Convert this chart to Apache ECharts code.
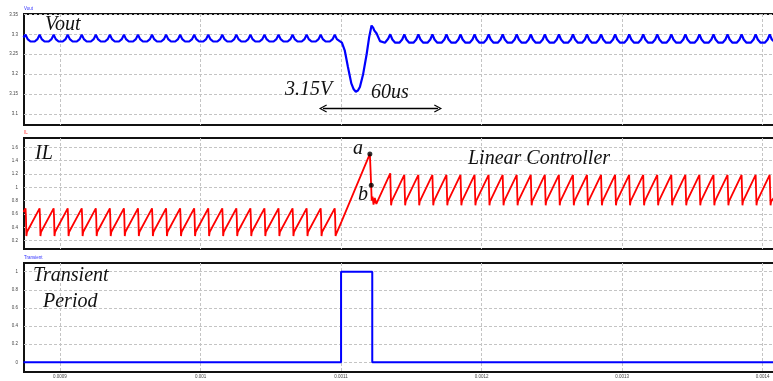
<!DOCTYPE html>
<html><head><meta charset="utf-8">
<script src="https://cdn.jsdelivr.net/npm/echarts@6/dist/echarts.min.js"></script>
<style>html,body{margin:0;padding:0;background:#fff}#c{width:773px;height:381px}</style>
</head><body><div id="c"></div>
<script>
// ---- axis ticks ----
const xTickValues = [900,1000,1100,1200,1300,1400]; // microseconds
const xTickLabels = ['0.0009','0.001','0.0011','0.0012','0.0013','0.0014'];
const voutTicks = [3.1,3.15,3.2,3.25,3.3,3.35];
const ilTicks = [0.2,0.4,0.6,0.8,1,1.2,1.4,1.6];
const trTicks = [0,0.2,0.4,0.6,0.8,1];

// ---- Vout [time us, V] ----
const voutPre = [
[874,3.292],
[875.5,3.299],[877,3.288],[879,3.282],[882,3.282],[884,3.288],
[885.5,3.299],[887,3.288],[889,3.282],[892,3.282],[894,3.288],
[895.5,3.299],[897,3.288],[899,3.282],[902,3.282],[904,3.288],
[905.5,3.299],[907,3.288],[909,3.282],[912,3.282],[914,3.288],
[915.5,3.299],[917,3.288],[919,3.282],[922,3.282],[924,3.288],
[925.5,3.299],[927,3.288],[929,3.282],[932,3.282],[934,3.288],
[935.5,3.299],[937,3.288],[939,3.282],[942,3.282],[944,3.288],
[945.5,3.299],[947,3.288],[949,3.282],[952,3.282],[954,3.288],
[955.5,3.299],[957,3.288],[959,3.282],[962,3.282],[964,3.288],
[965.5,3.299],[967,3.288],[969,3.282],[972,3.282],[974,3.288],
[975.5,3.299],[977,3.288],[979,3.282],[982,3.282],[984,3.288],
[985.5,3.299],[987,3.288],[989,3.282],[992,3.282],[994,3.288],
[995.5,3.299],[997,3.288],[999,3.282],[1002,3.282],[1004,3.288],
[1005.5,3.299],[1007,3.288],[1009,3.282],[1012,3.282],[1014,3.288],
[1015.5,3.299],[1017,3.288],[1019,3.282],[1022,3.282],[1024,3.288],
[1025.5,3.299],[1027,3.288],[1029,3.282],[1032,3.282],[1034,3.288],
[1035.5,3.299],[1037,3.288],[1039,3.282],[1042,3.282],[1044,3.288],
[1045.5,3.299],[1047,3.288],[1049,3.282],[1052,3.282],[1054,3.288],
[1055.5,3.299],[1057,3.288],[1059,3.282],[1062,3.282],[1064,3.288],
[1065.5,3.299],[1067,3.288],[1069,3.282],[1072,3.282],[1074,3.288],
[1075.5,3.299],[1077,3.288],[1079,3.282],[1082,3.282],[1084,3.288],
[1085.5,3.299],[1087,3.288],[1089,3.282],[1092,3.282],[1094,3.288]
];
const voutDip = [
[1095.5,3.299],[1097,3.288],[1099,3.283],[1100.6,3.279],[1102.6,3.26],[1104.9,3.218],
[1107.3,3.177],[1109,3.162],[1110.5,3.156],[1112,3.159],[1113.4,3.168],[1115.7,3.2],
[1118.2,3.25],[1120,3.293],[1121.7,3.322],[1122.4,3.327],[1122.9,3.316],[1123.6,3.31],
[1125.3,3.302],[1127.7,3.283],[1131.2,3.279],[1133.5,3.289]
];
const voutPost = [
[1135,3.300],[1136.5,3.287],[1138.5,3.279],[1141.5,3.279],[1143.5,3.287],
[1145,3.300],[1146.5,3.287],[1148.5,3.279],[1151.5,3.279],[1153.5,3.287],
[1155,3.300],[1156.5,3.287],[1158.5,3.279],[1161.5,3.279],[1163.5,3.287],
[1165,3.300],[1166.5,3.287],[1168.5,3.279],[1171.5,3.279],[1173.5,3.287],
[1175,3.300],[1176.5,3.287],[1178.5,3.279],[1181.5,3.279],[1183.5,3.287],
[1185,3.300],[1186.5,3.287],[1188.5,3.279],[1191.5,3.279],[1193.5,3.287],
[1195,3.300],[1196.5,3.287],[1198.5,3.279],[1201.5,3.279],[1203.5,3.287],
[1205,3.300],[1206.5,3.287],[1208.5,3.279],[1211.5,3.279],[1213.5,3.287],
[1215,3.300],[1216.5,3.287],[1218.5,3.279],[1221.5,3.279],[1223.5,3.287],
[1225,3.300],[1226.5,3.287],[1228.5,3.279],[1231.5,3.279],[1233.5,3.287],
[1235,3.300],[1236.5,3.287],[1238.5,3.279],[1241.5,3.279],[1243.5,3.287],
[1245,3.300],[1246.5,3.287],[1248.5,3.279],[1251.5,3.279],[1253.5,3.287],
[1255,3.300],[1256.5,3.287],[1258.5,3.279],[1261.5,3.279],[1263.5,3.287],
[1265,3.300],[1266.5,3.287],[1268.5,3.279],[1271.5,3.279],[1273.5,3.287],
[1275,3.300],[1276.5,3.287],[1278.5,3.279],[1281.5,3.279],[1283.5,3.287],
[1285,3.300],[1286.5,3.287],[1288.5,3.279],[1291.5,3.279],[1293.5,3.287],
[1295,3.300],[1296.5,3.287],[1298.5,3.279],[1301.5,3.279],[1303.5,3.287],
[1305,3.300],[1306.5,3.287],[1308.5,3.279],[1311.5,3.279],[1313.5,3.287],
[1315,3.300],[1316.5,3.287],[1318.5,3.279],[1321.5,3.279],[1323.5,3.287],
[1325,3.300],[1326.5,3.287],[1328.5,3.279],[1331.5,3.279],[1333.5,3.287],
[1335,3.300],[1336.5,3.287],[1338.5,3.279],[1341.5,3.279],[1343.5,3.287],
[1345,3.300],[1346.5,3.287],[1348.5,3.279],[1351.5,3.279],[1353.5,3.287],
[1355,3.300],[1356.5,3.287],[1358.5,3.279],[1361.5,3.279],[1363.5,3.287],
[1365,3.300],[1366.5,3.287],[1368.5,3.279],[1371.5,3.279],[1373.5,3.287],
[1375,3.300],[1376.5,3.287],[1378.5,3.279],[1381.5,3.279],[1383.5,3.287],
[1385,3.300],[1386.5,3.287],[1388.5,3.279],[1391.5,3.279],[1393.5,3.287],
[1395,3.300],[1396.5,3.287],[1398.5,3.279],[1401.5,3.279],[1403.5,3.287],
[1405,3.300],[1406.5,3.287],[1409,3.279],[1411,3.279]
];

// ---- IL [time us, A] ----
const ilPre = [
[874,0.63],
[875.5,0.685],[875.8,0.54],[876.1,0.27],[876.5,0.33],
[885.5,0.685],[885.8,0.54],[886.1,0.27],[886.5,0.33],
[895.5,0.685],[895.8,0.54],[896.1,0.27],[896.5,0.33],
[905.5,0.685],[905.8,0.54],[906.1,0.27],[906.5,0.33],
[915.5,0.685],[915.8,0.54],[916.1,0.27],[916.5,0.33],
[925.5,0.685],[925.8,0.54],[926.1,0.27],[926.5,0.33],
[935.5,0.685],[935.8,0.54],[936.1,0.27],[936.5,0.33],
[945.5,0.685],[945.8,0.54],[946.1,0.27],[946.5,0.33],
[955.5,0.685],[955.8,0.54],[956.1,0.27],[956.5,0.33],
[965.5,0.685],[965.8,0.54],[966.1,0.27],[966.5,0.33],
[975.5,0.685],[975.8,0.54],[976.1,0.27],[976.5,0.33],
[985.5,0.685],[985.8,0.54],[986.1,0.27],[986.5,0.33],
[995.5,0.685],[995.8,0.54],[996.1,0.27],[996.5,0.33],
[1005.5,0.685],[1005.8,0.54],[1006.1,0.27],[1006.5,0.33],
[1015.5,0.685],[1015.8,0.54],[1016.1,0.27],[1016.5,0.33],
[1025.5,0.685],[1025.8,0.54],[1026.1,0.27],[1026.5,0.33],
[1035.5,0.685],[1035.8,0.54],[1036.1,0.27],[1036.5,0.33],
[1045.5,0.685],[1045.8,0.54],[1046.1,0.27],[1046.5,0.33],
[1055.5,0.685],[1055.8,0.54],[1056.1,0.27],[1056.5,0.33],
[1065.5,0.685],[1065.8,0.54],[1066.1,0.27],[1066.5,0.33],
[1075.5,0.685],[1075.8,0.54],[1076.1,0.27],[1076.5,0.33],
[1085.5,0.685],[1085.8,0.54],[1086.1,0.27],[1086.5,0.33]
];
const ilRise = [
[1095.5,0.685],[1095.8,0.54],[1096.1,0.27],[1096.5,0.30],[1100.4,0.49],
[1120.5,1.5],[1121.0,1.25],[1121.4,1.03],[1121.8,0.80],[1122.4,0.86],
[1123.1,0.74],[1124.0,0.84],[1125.1,0.75]
];
const ilPost = [
[1135,1.21],[1135.3,0.95],[1135.6,0.73],[1136,0.79],
[1145,1.185],[1145.3,0.95],[1145.6,0.73],[1146,0.79],
[1155,1.185],[1155.3,0.95],[1155.6,0.73],[1156,0.79],
[1165,1.185],[1165.3,0.95],[1165.6,0.73],[1166,0.79],
[1175,1.185],[1175.3,0.95],[1175.6,0.73],[1176,0.79],
[1185,1.185],[1185.3,0.95],[1185.6,0.73],[1186,0.79],
[1195,1.185],[1195.3,0.95],[1195.6,0.73],[1196,0.79],
[1205,1.185],[1205.3,0.95],[1205.6,0.73],[1206,0.79],
[1215,1.185],[1215.3,0.95],[1215.6,0.73],[1216,0.79],
[1225,1.185],[1225.3,0.95],[1225.6,0.73],[1226,0.79],
[1235,1.185],[1235.3,0.95],[1235.6,0.73],[1236,0.79],
[1245,1.185],[1245.3,0.95],[1245.6,0.73],[1246,0.79],
[1255,1.185],[1255.3,0.95],[1255.6,0.73],[1256,0.79],
[1265,1.185],[1265.3,0.95],[1265.6,0.73],[1266,0.79],
[1275,1.185],[1275.3,0.95],[1275.6,0.73],[1276,0.79],
[1285,1.185],[1285.3,0.95],[1285.6,0.73],[1286,0.79],
[1295,1.185],[1295.3,0.95],[1295.6,0.73],[1296,0.79],
[1305,1.185],[1305.3,0.95],[1305.6,0.73],[1306,0.79],
[1315,1.185],[1315.3,0.95],[1315.6,0.73],[1316,0.79],
[1325,1.185],[1325.3,0.95],[1325.6,0.73],[1326,0.79],
[1335,1.185],[1335.3,0.95],[1335.6,0.73],[1336,0.79],
[1345,1.185],[1345.3,0.95],[1345.6,0.73],[1346,0.79],
[1355,1.185],[1355.3,0.95],[1355.6,0.73],[1356,0.79],
[1365,1.185],[1365.3,0.95],[1365.6,0.73],[1366,0.79],
[1375,1.185],[1375.3,0.95],[1375.6,0.73],[1376,0.79],
[1385,1.185],[1385.3,0.95],[1385.6,0.73],[1386,0.79],
[1395,1.185],[1395.3,0.95],[1395.6,0.73],[1396,0.79],
[1405,1.185],[1405.3,0.95],[1405.6,0.73],[1406,0.79],
[1411,0.92]
];
const ilDots = [[1120.5,1.5],[1121.5,1.03]];

// ---- Transient flag ----
const transient = [[874,0],[1100,0],[1100,1],[1122.2,1],[1122.2,0],[1411,0]];

// ---- annotation arrow (60us span) ----
const arrowSpan = [1087.1, 1169.0];
const arrowLevel = 3.114;

const X_MIN = 874.4, X_MAX = 1410.9;
const grids = [
  {left:24, width:754, top:14, height:111},
  {left:24, width:754, top:138, height:111},
  {left:24, width:754, top:263, height:109}
];
const gridStyle = {show:true, borderColor:'#111', borderWidth:2, backgroundColor:'transparent', outerBoundsMode:'none', containLabel:false};
const splitStyle = {show:true, lineStyle:{color:'#c4c4c4', width:1, type:[3,2]}};
const tickFont = {fontFamily:'Liberation Sans', fontSize:4.5, color:'#444'};

function xAx(i){
  return {
    type:'value', gridIndex:i, min:X_MIN, max:X_MAX,
    axisLine:{show:false},
    axisTick:{show:false, customValues:xTickValues},
    splitLine:splitStyle,
    axisLabel:Object.assign({show:i===2, margin:2, customValues:xTickValues,
      formatter:v=>{const k=xTickValues.indexOf(v);return k>=0?xTickLabels[k]:'';}}, tickFont)
  };
}
function yAx(i,min,max,ticks,name,color){
  return {
    type:'value', gridIndex:i, min:min, max:max,
    name:name, nameLocation:'end', nameGap:3,
    nameTextStyle:{align:'left', verticalAlign:'bottom', color:color, fontSize:4.5, fontFamily:'Liberation Sans', padding:0},
    axisLine:{show:false},
    axisTick:{show:false, customValues:ticks},
    splitLine:splitStyle,
    axisLabel:Object.assign({margin:6, customValues:ticks}, tickFont)
  };
}

const chevron = 'path://M0,10 L5,0 L10,10 L8.8,10.8 L5,3 L1.2,10.8 Z';
const serif = 'italic 20px "Liberation Serif"';
function txt(s,x,y){
  return {type:'text', x:x, y:y, style:{text:s, font:serif, fill:'#111', align:'left', verticalAlign:'middle', textAlign:'left', textVerticalAlign:'middle'}, z:100};
}

const chart = echarts.init(document.getElementById('c'), null, {renderer:'canvas'});
chart.setOption({
  animation:false,
  grid: grids.map(g=>Object.assign({}, g, gridStyle)),
  xAxis:[xAx(0),xAx(1),xAx(2)],
  yAxis:[
    yAx(0,3.0725,3.351,voutTicks,'Vout','#3333ff'),
    yAx(1,0.0755,1.739,ilTicks,'IL','#ff3333'),
    yAx(2,-0.107,1.096,trTicks,'Transient','#3333ff')
  ],
  series:[
    {type:'line', xAxisIndex:0, yAxisIndex:0, data:voutPre.concat(voutDip, voutPost), showSymbol:false,
     lineStyle:{color:'#0000ff', width:2.2}, z:5,
     markLine:{silent:true, symbol:[chevron, chevron], symbolSize:[8,8],
       lineStyle:{color:'#000', width:1.3, type:'solid'}, label:{show:false},
       data:[[{coord:[arrowSpan[0],arrowLevel]},{coord:[arrowSpan[1],arrowLevel]}]]}},
    {type:'line', xAxisIndex:1, yAxisIndex:1, data:ilPre.concat(ilRise, ilPost), showSymbol:false,
     lineStyle:{color:'#ff0000', width:1.8}, z:5},
    {type:'scatter', xAxisIndex:1, yAxisIndex:1, data:ilDots, symbolSize:5,
     itemStyle:{color:'#000'}, z:6},
    {type:'line', xAxisIndex:2, yAxisIndex:2, data:transient, showSymbol:false,
     lineStyle:{color:'#0000ff', width:2}, z:5}
  ],
  graphic:[
    txt('Vout',45,25),
    txt('IL',35,154),
    txt('Transient',33,276),
    txt('Period',43,301.5),
    txt('3.15V',285,90),
    txt('60us',371,93),
    txt('a',353,149),
    txt('b',358,195),
    txt('Linear Controller',468,159)
  ]
});
</script></body></html>
